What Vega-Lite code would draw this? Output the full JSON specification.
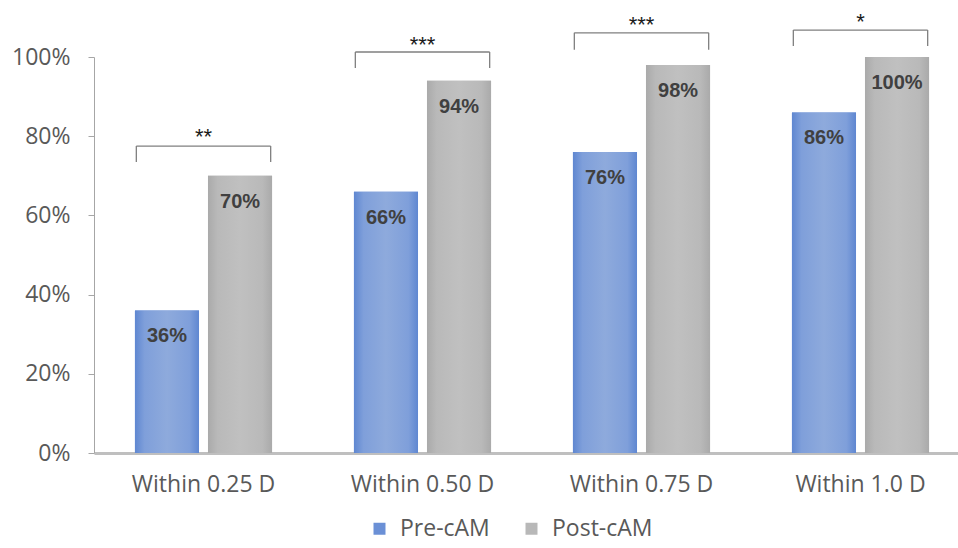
{
  "$schema": "https://vega.github.io/schema/vega-lite/v6.json",
  "autosize": {"type": "none"},
  "width": 864,
  "height": 396,
  "padding": {"left": 94, "top": 57, "right": 0, "bottom": 95},
  "config": {"view": {"stroke": null}, "font": "Open Sans"},
  "datasets": {
    "bars": [
      {"group": "Within 0.25 D", "series": "Pre-cAM", "value": 0.36, "label": "36%"},
      {"group": "Within 0.25 D", "series": "Post-cAM", "value": 0.70, "label": "70%"},
      {"group": "Within 0.50 D", "series": "Pre-cAM", "value": 0.66, "label": "66%"},
      {"group": "Within 0.50 D", "series": "Post-cAM", "value": 0.94, "label": "94%"},
      {"group": "Within 0.75 D", "series": "Pre-cAM", "value": 0.76, "label": "76%"},
      {"group": "Within 0.75 D", "series": "Post-cAM", "value": 0.98, "label": "98%"},
      {"group": "Within 1.0 D", "series": "Pre-cAM", "value": 0.86, "label": "86%"},
      {"group": "Within 1.0 D", "series": "Post-cAM", "value": 1.00, "label": "100%"}
    ],
    "brackets": [
      {"group": "Within 0.25 D", "top": 0.775, "bottom": 0.735, "stars": "**", "starY": 0.811},
      {"group": "Within 0.50 D", "top": 1.0126, "bottom": 0.972, "stars": "***", "starY": 1.043},
      {"group": "Within 0.75 D", "top": 1.061, "bottom": 1.018, "stars": "***", "starY": 1.093},
      {"group": "Within 1.0 D", "top": 1.068, "bottom": 1.028, "stars": "*", "starY": 1.101}
    ]
  },
  "layer": [
    {
      "data": {"name": "bars"},
      "mark": {"type": "bar"},
      "encoding": {
        "x": {"field": "group", "type": "nominal", "sort": null,
          "scale": {"range": [0, 876], "paddingInner": 0.374, "paddingOuter": 0.187},
          "axis": {"title": null, "labelAngle": 0, "ticks": false, "domainWidth": 3, "domainColor": "#bfbfbf",
            "labelFontSize": 23, "labelColor": "#595959", "labelPadding": 20, "labelFont": "Open Sans"}},
        "xOffset": {"field": "series", "type": "nominal",
          "scale": {"domain": ["Pre-cAM", "Post-cAM"], "paddingInner": 0.123, "paddingOuter": 0}},
        "y": {"field": "value", "type": "quantitative",
          "scale": {"domain": [0, 1], "nice": false},
          "axis": {"title": null, "format": ".0%", "values": [0, 0.2, 0.4, 0.6, 0.8, 1], "grid": false,
            "domainColor": "#a6a6a6", "tickColor": "#a6a6a6", "tickSize": 6, "labelFontSize": 23,
            "labelColor": "#595959", "labelPadding": 18, "labelFont": "Open Sans"}},
        "color": {"field": "series", "type": "nominal",
          "scale": {"domain": ["Pre-cAM", "Post-cAM"], "range": ["#6b90d6", "#b8b8b8"]},
          "legend": {"title": null, "orient": "none", "legendX": 274, "legendY": 460, "direction": "horizontal",
            "symbolType": "square", "symbolSize": 144, "symbolStrokeWidth": 0, "labelFontSize": 23,
            "labelColor": "#595959", "columnPadding": 30, "labelOffset": 9, "labelFont": "Open Sans"}}
      }
    },
    {
      "data": {"name": "bars"},
      "transform": [{"filter": "datum.series === 'Pre-cAM'"}],
      "mark": {"type": "bar", "fill": {"gradient": "linear", "x1": 0, "x2": 1, "y1": 0, "y2": 0,
        "stops": [{"offset": 0, "color": "#5f87d1"}, {"offset": 0.15, "color": "#7f9fda"}, {"offset": 0.5, "color": "#8eaadc"}, {"offset": 0.85, "color": "#7f9fda"}, {"offset": 1, "color": "#5f87d1"}]}},
      "encoding": {
        "x": {"field": "group", "type": "nominal", "sort": null},
        "xOffset": {"field": "series", "type": "nominal"},
        "y": {"field": "value", "type": "quantitative"}
      }
    },
    {
      "data": {"name": "bars"},
      "transform": [{"filter": "datum.series === 'Post-cAM'"}],
      "mark": {"type": "bar", "fill": {"gradient": "linear", "x1": 0, "x2": 1, "y1": 0, "y2": 0,
        "stops": [{"offset": 0, "color": "#aaaaaa"}, {"offset": 0.15, "color": "#b9b9b9"}, {"offset": 0.5, "color": "#c0c0c0"}, {"offset": 0.85, "color": "#b9b9b9"}, {"offset": 1, "color": "#aaaaaa"}]}},
      "encoding": {
        "x": {"field": "group", "type": "nominal", "sort": null},
        "xOffset": {"field": "series", "type": "nominal"},
        "y": {"field": "value", "type": "quantitative"}
      }
    },
    {
      "data": {"name": "bars"},
      "mark": {"type": "text", "dy": 26, "baseline": "middle", "fontWeight": "bold", "fontSize": 20, "color": "#404040", "font": "Liberation Sans"},
      "encoding": {
        "x": {"field": "group", "type": "nominal", "sort": null},
        "xOffset": {"field": "series", "type": "nominal"},
        "y": {"field": "value", "type": "quantitative"},
        "text": {"field": "label"}
      }
    },
    {
      "data": {"name": "brackets"},
      "mark": {"type": "rule", "color": "#7f7f7f", "strokeWidth": 1.3},
      "encoding": {
        "x": {"field": "group", "type": "nominal", "sort": null, "bandPosition": 0.01},
        "x2": {"field": "group", "bandPosition": 0.99},
        "y": {"field": "top", "type": "quantitative"}
      }
    },
    {
      "data": {"name": "brackets"},
      "mark": {"type": "rule", "color": "#7f7f7f", "strokeWidth": 1.3},
      "encoding": {
        "x": {"field": "group", "type": "nominal", "sort": null, "bandPosition": 0.01},
        "y": {"field": "top", "type": "quantitative"},
        "y2": {"field": "bottom"}
      }
    },
    {
      "data": {"name": "brackets"},
      "mark": {"type": "rule", "color": "#7f7f7f", "strokeWidth": 1.3},
      "encoding": {
        "x": {"field": "group", "type": "nominal", "sort": null, "bandPosition": 0.99},
        "y": {"field": "top", "type": "quantitative"},
        "y2": {"field": "bottom"}
      }
    },
    {
      "data": {"name": "brackets"},
      "mark": {"type": "text", "fontSize": 22, "baseline": "alphabetic", "dy": 12, "color": "#1a1a1a", "font": "Liberation Sans"},
      "encoding": {
        "x": {"field": "group", "type": "nominal", "sort": null, "bandPosition": 0.5},
        "y": {"field": "starY", "type": "quantitative"},
        "text": {"field": "stars"}
      }
    }
  ]
}
